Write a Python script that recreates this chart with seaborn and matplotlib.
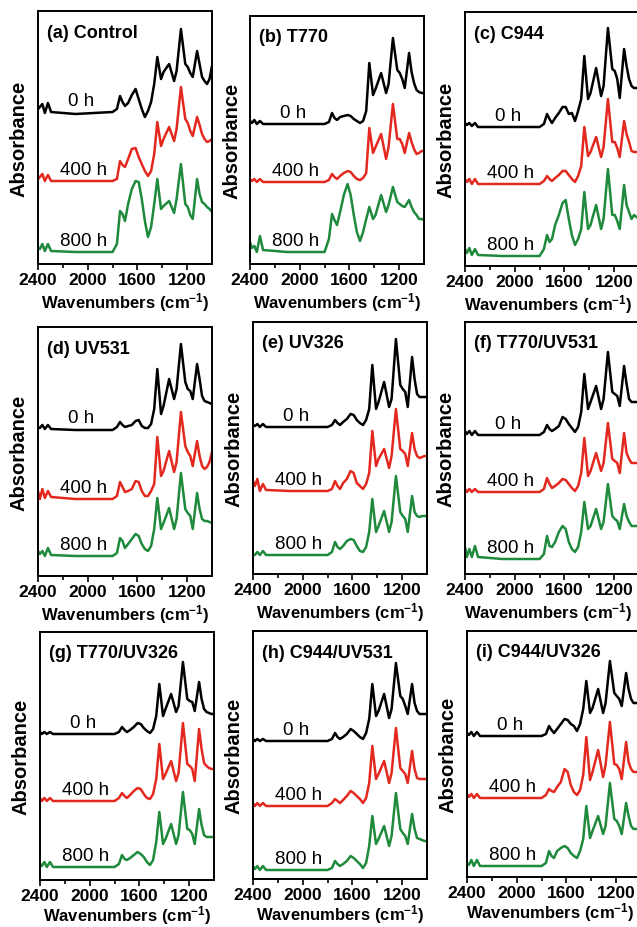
import matplotlib
matplotlib.use('Agg')
import pandas as pd
import matplotlib.pyplot as plt
import seaborn as sns

# %% data: FTIR spectra (height above each trace's baseline, a.u.)
wavenumber = [2400, 2385, 2365, 2345, 2320, 2295, 2100, 1800, 1765, 1740, 1720, 1700, 1675,
              1645, 1615, 1590, 1565, 1540, 1515, 1490, 1465, 1440, 1410, 1390, 1345, 1305,
              1285, 1250, 1215, 1195, 1175, 1155, 1120, 1100, 1080, 1060, 1040, 1020, 1000]
times = ['0 h', '400 h', '800 h']
panel_titles = ['(a) Control', '(b) T770', '(c) C944',
                '(d) UV531', '(e) UV326', '(f) T770/UV531',
                '(g) T770/UV326', '(h) C944/UV531', '(i) C944/UV326']

a_0h = [3, 5, 8, -1, 9, 0, -2, 0, 3, 16, 10, 6, 9, 17, 23, 13, 3, -5, 1, 10, 28, 55, 33, 40, 48, 31,
        41, 83, 48, 45, 39, 35, 61, 48, 35, 31, 28, 33, 46]
a_400h = [2, 4, 7, 0, 6, 0, 0, 0, 2, 20, 16, 14, 22, 32, 33, 24, 17, 10, 5, 10, 27, 59, 35, 42, 54, 40,
          52, 94, 62, 58, 50, 45, 64, 56, 47, 42, 39, 40, 42]
a_800h = [5, 3, 8, 1, 8, 1, 0, 0, 8, 41, 38, 31, 48, 63, 71, 70, 53, 31, 15, 25, 48, 73, 43, 46, 51, 39,
          53, 88, 48, 45, 37, 33, 73, 58, 50, 48, 45, 43, 40]

b_0h = [3, 1, 4, 0, 3, 0, 0, 0, 2, 11, 6, 4, 7, 8, 9, 8, 5, 3, 1, 3, 13, 61, 29, 35, 51, 31,
        40, 86, 54, 51, 45, 36, 71, 52, 41, 34, 32, 31, 31]
b_400h = [3, 1, 3, 0, 3, 0, 0, 0, 2, 8, 5, 3, 6, 9, 11, 10, 6, 3, 2, 4, 9, 54, 29, 35, 48, 23,
          35, 78, 43, 43, 38, 29, 49, 40, 33, 28, 29, 31, 31]
b_800h = [10, 4, 6, 0, 16, 2, 0, 0, 13, 38, 32, 27, 40, 57, 68, 57, 37, 20, 11, 20, 33, 45, 33, 37, 57, 40,
          47, 65, 50, 48, 46, 45, 52, 45, 40, 37, 33, 33, 32]

c_0h = [4, 2, 4, 1, 4, 0, 0, 0, 3, 13, 8, 4, 9, 14, 20, 20, 13, 14, 6, 16, 28, 71, 28, 34, 59, 31,
        41, 99, 58, 56, 48, 29, 78, 61, 48, 41, 39, 39, 39]
c_400h = [5, 2, 5, 0, 5, 0, 0, 0, 3, 8, 5, 3, 6, 9, 13, 13, 9, 5, 2, 8, 18, 57, 28, 32, 47, 27,
          37, 85, 42, 42, 36, 27, 63, 50, 42, 33, 32, 32, 32]
c_800h = [7, 3, 8, 1, 7, 1, 0, 0, 7, 21, 14, 17, 31, 41, 53, 56, 37, 21, 11, 17, 27, 64, 27, 31, 51, 27,
          37, 87, 41, 41, 35, 27, 71, 51, 44, 37, 41, 39, 37]

d_0h = [2, 1, 4, 0, 4, 0, -1, -1, 2, 7, 4, 2, 3, 4, 8, 9, 3, 1, 1, 5, 20, 60, 15, 23, 50, 30,
        40, 85, 47, 40, 38, 30, 65, 50, 33, 28, 27, 26, 25]
d_400h = [8, 0, 10, 1, 8, 2, 0, 0, 3, 17, 12, 7, 8, 10, 18, 17, 8, 3, 3, 8, 15, 62, 23, 28, 48, 27,
          37, 87, 53, 47, 43, 33, 58, 43, 33, 30, 32, 37, 47]
d_800h = [5, 2, 5, 0, 8, 1, 0, 0, 3, 18, 15, 8, 12, 17, 22, 20, 12, 7, 5, 10, 27, 58, 27, 33, 48, 27,
          37, 83, 47, 43, 40, 27, 63, 47, 37, 35, 35, 34, 33]

e_0h = [2, 1, 3, 0, 3, 0, 0, 0, 2, 7, 4, 2, 5, 8, 13, 12, 7, 4, 2, 7, 18, 62, 18, 25, 45, 20,
        28, 88, 42, 38, 35, 20, 70, 48, 33, 30, 30, 30, 30]
e_400h = [10, 5, 12, 0, 7, 1, 0, 0, 2, 10, 5, 2, 8, 12, 20, 18, 8, 5, 2, 7, 18, 60, 25, 32, 42, 23,
          35, 82, 42, 40, 37, 25, 58, 42, 35, 33, 34, 35, 35]
e_800h = [1, 0, 3, 0, 4, 0, 0, 0, 3, 13, 8, 6, 9, 14, 16, 15, 9, 4, 3, 8, 23, 56, 23, 29, 44, 23,
          33, 79, 43, 39, 36, 23, 59, 43, 39, 38, 39, 39, 39]

f_0h = [4, 1, 4, 0, 4, 0, 0, 0, 3, 10, 6, 4, 6, 9, 18, 16, 11, 7, 3, 8, 23, 61, 26, 33, 49, 26,
        36, 83, 43, 41, 39, 29, 69, 51, 36, 33, 33, 33, 33]
f_400h = [3, 0, 3, 0, 3, 0, 0, 0, 3, 14, 8, 4, 6, 9, 13, 12, 8, 4, 1, 6, 19, 54, 16, 21, 39, 21,
          29, 69, 33, 31, 29, 19, 59, 39, 33, 29, 29, 29, 29]
f_800h = [12, 2, 10, 2, 13, 2, 0, 0, 5, 23, 13, 12, 17, 27, 33, 30, 17, 10, 7, 12, 27, 57, 30, 33, 50, 30,
          37, 75, 43, 40, 38, 30, 55, 43, 37, 33, 33, 33, 33]

g_0h = [2, 0, 2, 0, 2, 0, 0, 0, 2, 7, 4, 2, 4, 7, 11, 10, 6, 3, 1, 5, 18, 50, 18, 25, 40, 22,
        28, 72, 35, 33, 32, 23, 52, 35, 25, 22, 21, 20, 20]
g_400h = [3, 0, 3, 0, 3, 0, 0, 0, 3, 8, 5, 3, 6, 10, 13, 12, 7, 3, 2, 7, 22, 57, 22, 27, 40, 20,
          28, 78, 37, 35, 32, 20, 72, 52, 38, 35, 33, 32, 32]
g_800h = [3, 1, 5, 0, 5, 0, 0, 0, 3, 12, 8, 7, 9, 12, 15, 13, 10, 5, 2, 7, 25, 55, 23, 28, 43, 23,
          32, 75, 38, 37, 33, 23, 58, 42, 32, 30, 30, 30, 30]

h_0h = [2, 0, 2, 0, 2, 0, 0, 0, 2, 8, 4, 2, 4, 7, 12, 10, 7, 4, 2, 8, 22, 57, 25, 30, 47, 23,
        32, 78, 45, 42, 35, 27, 57, 38, 30, 27, 27, 27, 27]
h_400h = [3, 0, 3, 0, 3, 0, 0, 0, 3, 7, 5, 3, 6, 10, 15, 13, 10, 7, 3, 8, 23, 60, 27, 32, 45, 23,
          33, 78, 38, 35, 32, 23, 55, 37, 28, 27, 27, 27, 27]
h_800h = [4, 1, 4, 0, 4, 0, 0, 0, 2, 9, 6, 4, 6, 9, 14, 12, 9, 6, 2, 7, 24, 54, 26, 31, 44, 24,
          34, 77, 41, 37, 34, 26, 56, 41, 32, 31, 30, 29, 29]

i_0h = [3, 1, 4, 0, 4, 0, 0, 0, 2, 10, 6, 3, 7, 12, 17, 16, 12, 10, 5, 12, 27, 55, 23, 28, 47, 23,
        33, 75, 43, 40, 37, 30, 63, 47, 37, 33, 33, 33, 33]
i_400h = [4, 1, 4, 0, 4, 0, 0, 0, 3, 9, 7, 6, 11, 16, 29, 26, 13, 6, 3, 8, 23, 61, 18, 26, 48, 21,
          33, 76, 34, 33, 29, 19, 56, 36, 29, 26, 26, 26, 26]
i_800h = [3, 1, 6, 0, 6, 0, 0, 0, 3, 15, 10, 8, 15, 18, 20, 18, 13, 10, 8, 15, 27, 60, 28, 35, 50, 32,
          40, 83, 47, 45, 40, 32, 63, 50, 40, 37, 37, 37, 37]

spectra = [(a_0h, a_400h, a_800h), (b_0h, b_400h, b_800h), (c_0h, c_400h, c_800h),
           (d_0h, d_400h, d_800h), (e_0h, e_400h, e_800h), (f_0h, f_400h, f_800h),
           (g_0h, g_400h, g_800h), (h_0h, h_400h, h_800h), (i_0h, i_400h, i_800h)]

# %% layout (pixels) and stacking offsets
W, H = 637, 928
boxes = [(38, 12, 212, 265), (250, 17, 424, 265), (465, 13, 639, 267),
         (38, 328, 212, 577), (253, 323, 427, 575), (465, 323, 639, 575),
         (40, 633, 214, 881), (253, 632, 427, 880), (467, 632, 641, 878)]
offsets = [(152, 83, 12), (140, 82, 12), (139, 82, 10),
           (147, 77, 20), (147, 83, 19), (139, 82, 15),
           (146, 79, 13), (138, 73, 9), (141, 79, 11)]
label_x = [1950, 1845, 1845]
colors = {'0 h': '#000000', '400 h': '#e3291f', '800 h': '#1f8a3b'}

# %% plot
sns.set_style('ticks')
plt.rcParams['font.family'] = ['Liberation Sans', 'DejaVu Sans']
plt.rcParams['text.color'] = 'black'
plt.rcParams['axes.labelcolor'] = 'black'
plt.rcParams['xtick.color'] = 'black'
plt.rcParams['mathtext.fontset'] = 'custom'
plt.rcParams['mathtext.rm'] = 'Liberation Sans:bold'
plt.rcParams['mathtext.bf'] = 'Liberation Sans:bold'
plt.rcParams['mathtext.default'] = 'bf'

fig = plt.figure(figsize=(W / 100, H / 100), dpi=100)

for k, title in enumerate(panel_titles):
    l, t, r, b = boxes[k]
    ax = fig.add_axes([l / W, 1 - b / H, (r - l) / W, (b - t) / H])

    rows = []
    for name, vals, off in zip(times, spectra[k], offsets[k]):
        for w, v in zip(wavenumber, vals):
            rows.append((w, v + off, name))
    df = pd.DataFrame(rows, columns=['wavenumber', 'absorbance', 'time'])
    sns.lineplot(data=df, x='wavenumber', y='absorbance', hue='time', palette=colors,
                 estimator=None, sort=False, legend=False, lw=1.8, ax=ax)

    for j, (name, off) in enumerate(zip(times, offsets[k])):
        ax.text(label_x[j], off + 3, name, ha='right', va='bottom', fontsize=13.5, color='black')

    ax.annotate(title, xy=(0, 1), xycoords='axes fraction', xytext=(9, -21),
                textcoords='offset pixels', ha='left', va='center',
                fontsize=13, fontweight='bold', color='black')

    ax.set_xlim(2400, 1000)
    ax.set_ylim(0, b - t)
    ax.set_yticks([])
    ax.set_xticks([2400, 2000, 1600, 1200])
    ax.set_xticks([2200, 1800, 1400], minor=True)
    ax.tick_params(axis='x', which='major', direction='out', length=4, width=1.2,
                   labelsize=12.5, pad=2, colors='black')
    ax.tick_params(axis='x', which='minor', direction='out', length=3, width=1.2, colors='black')
    for lab in ax.get_xticklabels():
        lab.set_fontweight('bold')
    for sp in ax.spines.values():
        sp.set_visible(True)
        sp.set_linewidth(1.4)
        sp.set_color('black')

    ax.set_ylabel('Absorbance', fontsize=14.5, fontweight='bold')
    ax.yaxis.set_label_coords(-9 / (r - l), 0.5)
    ax.set_xlabel('Wavenumbers (cm$^{-1}$)', fontsize=12, fontweight='bold')
    xl_x = 0.48 if k % 3 == 2 else 0.5
    xl_y = -23 / (b - t) if k >= 6 else -26 / (b - t)
    ax.xaxis.set_label_coords(xl_x, xl_y)

fig.savefig('out.png', dpi=100)
